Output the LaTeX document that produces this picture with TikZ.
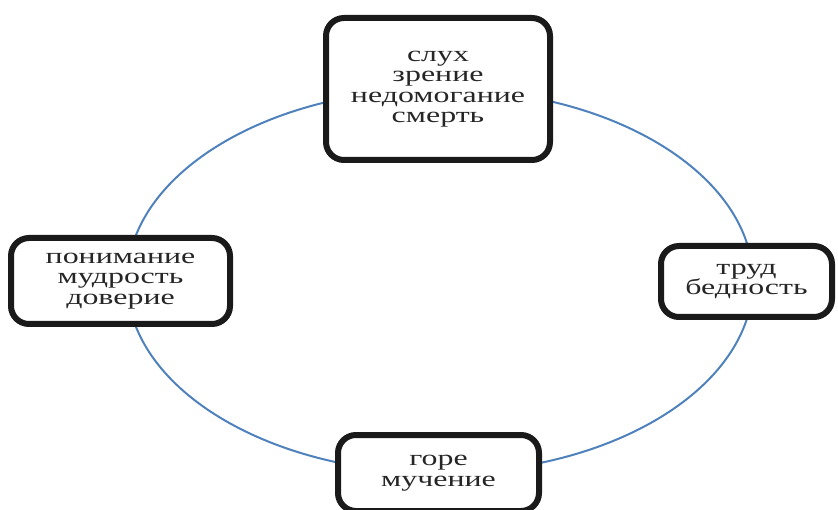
\documentclass[tikz,border=0pt]{standalone}
\usepackage{fontspec}
\setmainfont{Liberation Serif}[FakeStretch=1.45]
\definecolor{ringblue}{HTML}{4F81BD}
\definecolor{boxline}{HTML}{1A1A1A}
\definecolor{txt}{HTML}{262626}
\begin{document}
\begin{tikzpicture}[x=1pt,y=-1pt,
  term/.style={draw=boxline, line width=6pt, rounded corners=18pt, fill=white,
    align=center, text=txt, inner sep=0pt,
    font=\fontsize{22pt}{20.5pt}\selectfont},
  ring/.style={draw=ringblue, line width=2pt}]
\useasboundingbox (0,0) rectangle (838,510);
\coordinate (c) at (440,281);
\draw[ring] (c) ellipse [x radius=313pt, y radius=192pt];
\node[term, minimum width=224pt, minimum height=142pt] (top) at (438,89)
  {слух\\зрение\\недомогание\\смерть};
\node[term, minimum width=219pt, minimum height=86pt] (left) at (120.5,281)
  {понимание\\мудрость\\доверие};
\node[term, minimum width=171pt, minimum height=71pt] (right) at (746.5,281.5)
  {труд\\бедность};
\node[term, minimum width=201pt, minimum height=76pt] (bottom) at (438.5,473)
  {горе\\мучение};
\end{tikzpicture}
\end{document}
